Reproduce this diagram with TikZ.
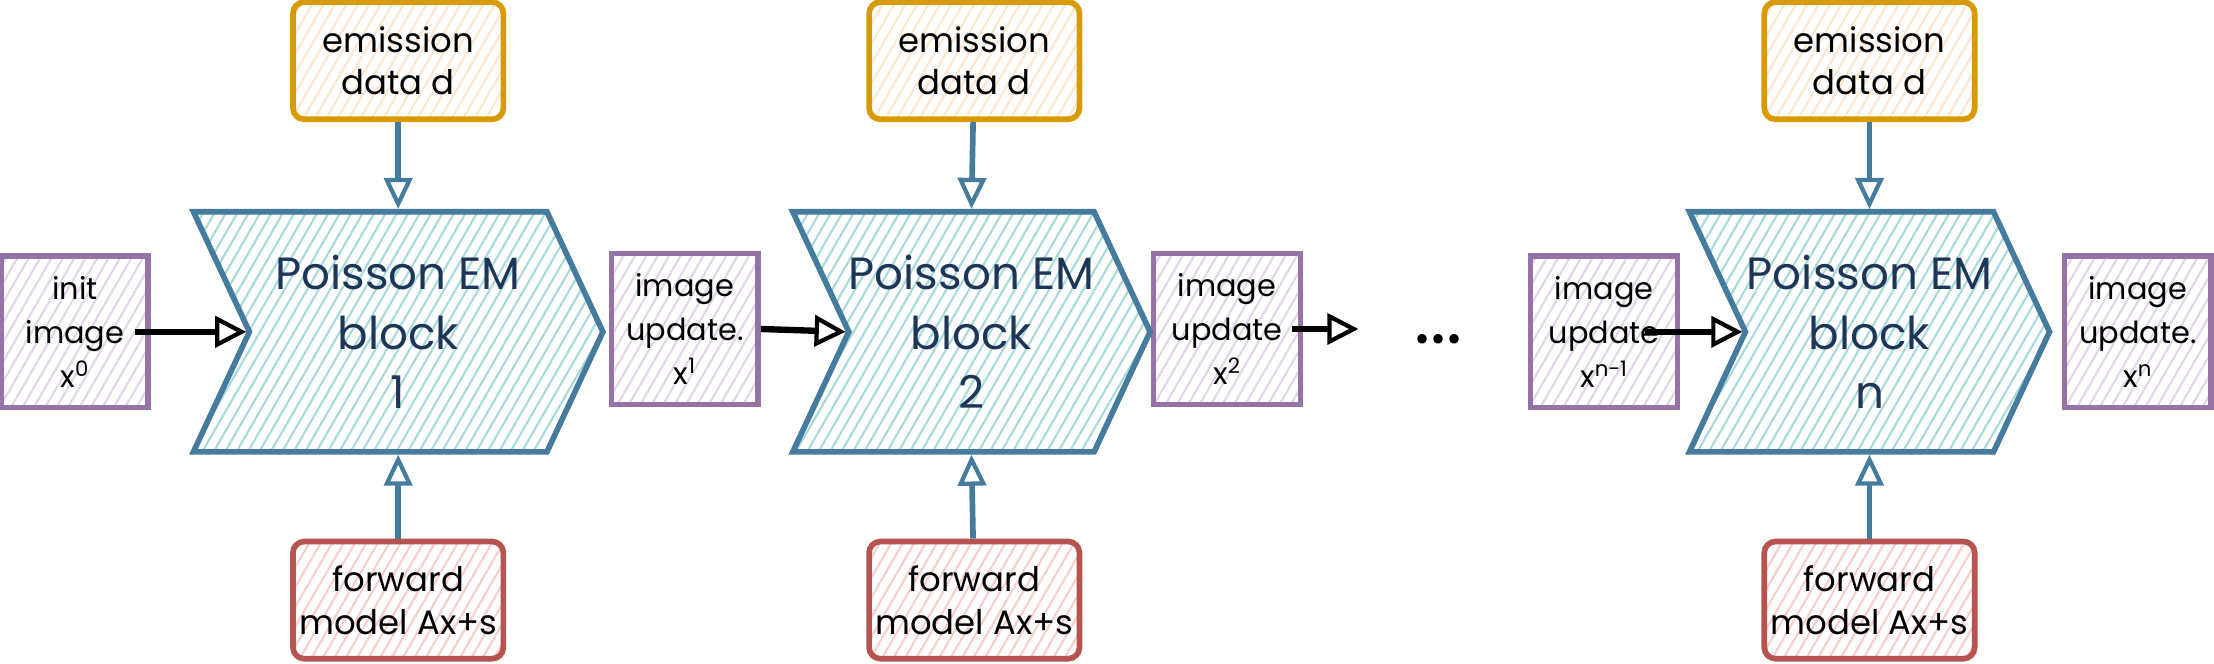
\documentclass[tikz,border=0pt]{standalone}
\usepackage{fontspec}
\setmainfont{Poppins}
\usetikzlibrary{shapes.symbols,arrows.meta,patterns.meta}

\definecolor{blockfill}{HTML}{A8DADC}
\definecolor{blockline}{HTML}{457B9D}
\definecolor{blocktext}{HTML}{1D3557}
\definecolor{imgfill}{HTML}{E1D5E7}
\definecolor{imgline}{HTML}{9673A6}
\definecolor{datafill}{HTML}{FFE6CC}
\definecolor{dataline}{HTML}{D79B00}
\definecolor{fwdfill}{HTML}{F8CECC}
\definecolor{fwdline}{HTML}{B85450}

\tikzset{
  hatch/.style={pattern={Lines[angle=60,distance=7pt,line width=1.5pt]},pattern color=#1},
  emblock/.style={shape=signal, signal from=west, signal to=east,
    signal pointer angle=130, draw=blockline, line width=4pt, hatch=blockfill,
    text=blocktext, font=\fontsize{32}{42}\selectfont, align=center,
    minimum height=170pt, inner sep=0pt},
  imgbox/.style={draw=imgline, line width=4pt, hatch=imgfill,
    minimum width=104pt, minimum height=107pt, align=center,
    font=\fontsize{21.5}{31}\selectfont, inner sep=0pt},
  databox/.style={draw=dataline, rounded corners=8pt, line width=4pt,
    hatch=datafill, minimum width=149pt, minimum height=83pt, align=center,
    font=\fontsize{24}{30}\selectfont, inner sep=0pt},
  fwdbox/.style={databox, draw=fwdline, hatch=fwdfill},
  feed/.style={-{Triangle[open,length=22pt,width=20pt,line width=3pt]}, draw=blockline, line width=4pt},
  pass/.style={-{Triangle[open,length=22pt,width=22pt,line width=3pt]}, line width=4.5pt},
}

\begin{document}
\begin{tikzpicture}[x=1pt,y=-1pt]
\useasboundingbox (0,0) rectangle (1568,470);
% image estimates
\node[imgbox] (init) at (53,235) {init\\image\\x\textsuperscript{0}};
\node[imgbox] (up1) at (485,233) {image\\update.\\x\textsuperscript{1}};
\node[imgbox] (up2) at (869,233) {image\\update\\x\textsuperscript{2}};
\node[imgbox] (upm) at (1136,235) {image\\update\\x\textsuperscript{n-1}};
\node[imgbox] (upn) at (1514,235) {image\\update.\\x\textsuperscript{n}};
% EM blocks
\node[emblock, minimum width=290pt] (blk1) at (282,235) {Poisson EM\\block\\1};
\node[emblock, minimum width=253pt] (blk2) at (688,235) {Poisson EM\\block\\2};
\node[emblock, minimum width=255pt] (blkn) at (1324,235) {Poisson EM\\block\\n};
% inputs
\node[databox] (em1) at (282,43) {emission\\data d};
\node[databox] (em2) at (690,43) {emission\\data d};
\node[databox] (emn) at (1324,43) {emission\\data d};
\node[fwdbox] (fw1) at (282,425) {forward\\model Ax+s};
\node[fwdbox] (fw2) at (690,425) {forward\\model Ax+s};
\node[fwdbox] (fwn) at (1324,425) {forward\\model Ax+s};
\node[font=\fontsize{54}{54}\selectfont, anchor=base] (dots) at (1019,243) {...};
\coordinate (gap) at (962,233);
% connectors
\draw[feed] (em1) -- (blk1.north);
\draw[feed] (em2) -- (blk2.north);
\draw[feed] (emn) -- (blkn.north);
\draw[feed] (fw1) -- (blk1.south);
\draw[feed] (fw2) -- (blk2.south);
\draw[feed] (fwn) -- (blkn.south);
\draw[pass] ([xshift=-10pt]init.east) -- (blk1.west);
\draw[pass] (up1.east) -- (blk2.west);
\draw[pass] ([xshift=-8pt]up2.east) -- (gap);
\draw[pass] ([xshift=-25pt]upm.east) -- (blkn.west);
\end{tikzpicture}
\end{document}
